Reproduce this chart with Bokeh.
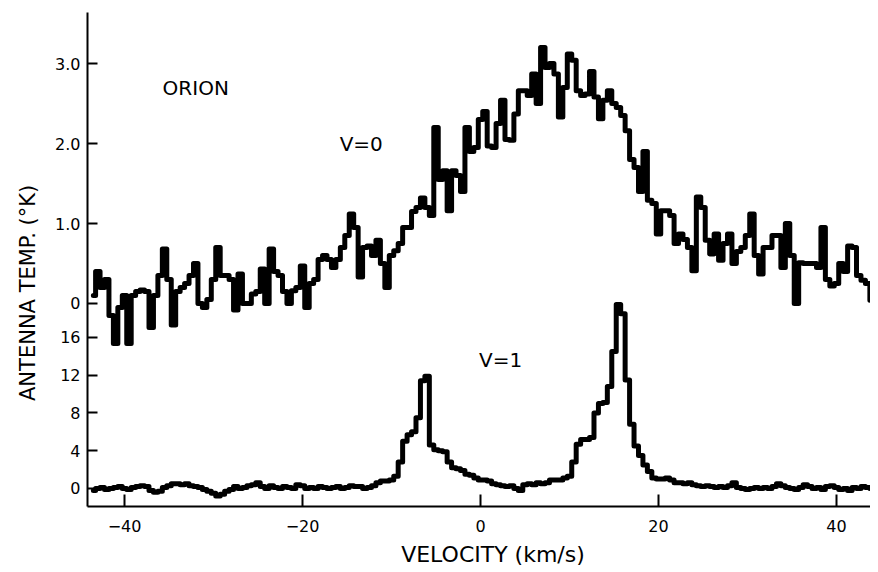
import numpy as np
from bokeh.plotting import figure
from bokeh.models import Range1d, LinearAxis, FixedTicker, Label
from bokeh.embed import file_html
from bokeh.resources import INLINE

# ---- data -------------------------------------------------------------
CHANNEL_START = -43.5     # km/s, centre of first channel
CHANNEL_WIDTH = 0.5       # km/s

# V=0 spectrum, antenna temperature (K)
T_V0 = [
    0.1, 0.4, 0.2, 0.3, -0.15, -0.5, -0.05, 0.1, -0.5, 0.1,
    0.15, 0.17, 0.15, -0.3, 0.1, 0.35, 0.68, 0.3, -0.27, 0.15,
    0.2, 0.25, 0.35, 0.5, 0.0, -0.05, 0.05, 0.3, 0.7, 0.35,
    0.35, 0.3, -0.08, 0.37, 0.0, 0.0, 0.12, 0.15, 0.43, 0.0,
    0.68, 0.4, 0.35, 0.15, 0.0, 0.16, 0.2, 0.47, -0.05, 0.25,
    0.3, 0.55, 0.6, 0.55, 0.45, 0.55, 0.7, 0.85, 1.12, 0.95,
    0.33, 0.7, 0.72, 0.6, 0.79, 0.5, 0.2, 0.6, 0.66, 0.75,
    0.95, 0.95, 1.15, 1.2, 1.32, 1.2, 1.1, 2.2, 1.55, 1.66,
    1.16, 1.66, 1.6, 1.4, 2.2, 1.9, 1.95, 2.3, 2.4, 1.97,
    1.95, 2.25, 2.54, 2.05, 2.04, 2.37, 2.66, 2.66, 2.6, 2.87,
    2.5, 3.2, 2.95, 3.0, 2.87, 2.33, 2.7, 3.12, 3.04, 2.66,
    2.6, 2.62, 2.9, 2.58, 2.31, 2.54, 2.66, 2.5, 2.45, 2.35,
    2.16, 1.8, 1.7, 1.4, 1.9, 1.29, 1.25, 0.87, 1.16, 1.16,
    1.1, 0.75, 0.87, 0.8, 0.7, 0.41, 1.33, 1.2, 0.79, 0.62,
    0.87, 0.54, 0.75, 0.87, 0.5, 0.65, 0.7, 0.85, 1.12, 0.6,
    0.37, 0.7, 0.7, 0.85, 0.85, 0.45, 1.0, 0.6, 0.0, 0.51,
    0.5, 0.5, 0.5, 0.45, 0.95, 0.3, 0.22, 0.25, 0.5, 0.4,
    0.72, 0.7, 0.35, 0.29, 0.25, 0.04,
]

# V=1 spectrum, antenna temperature (K)
T_V1 = [
    -0.2, 0.0, 0.1, -0.1, 0.0, 0.1,
    0.2, 0.0, -0.1, 0.1, 0.2, 0.3,
    0.2, -0.2, -0.4, -0.3, 0.1, 0.3,
    0.5, 0.5, 0.4, 0.5, 0.3, 0.2,
    0.1, -0.1, -0.3, -0.5, -0.8, -0.6,
    -0.3, -0.1, 0.2, 0.0, 0.1, 0.3,
    0.4, 0.6, 0.2, 0.0, 0.3, 0.1,
    0.0, 0.2, 0.1, 0.0, 0.4, 0.3,
    0.0, 0.1, 0.0, 0.2, 0.1, 0.0,
    0.1, 0.2, 0.0, 0.1, 0.3, 0.2,
    0.2, 0.0, 0.1, 0.3,
    0.6, 0.8, 0.8, 0.9, 1.3, 2.8, 5.0, 5.7, 6.0, 7.5, 11.4, 11.9,
    4.6, 4.1, 4.0, 3.9, 2.8, 2.2, 2.1, 1.9, 1.5, 1.4, 1.1, 0.9, 0.9, 0.8,
    0.5, 0.4, 0.3, 0.2, 0.3, 0.0, -0.2, 0.4, 0.5, 0.4, 0.6, 0.5, 0.6, 0.9, 0.9, 0.9, 1.1, 1.3,
    2.8, 4.7, 5.2, 5.2, 5.4, 8.0, 9.0, 9.1, 10.8, 14.5, 19.5, 18.5, 11.5, 6.8, 4.5, 3.5, 2.5, 1.8, 1.1, 1.0,
    1.0, 1.1, 0.9, 0.6, 0.6, 0.5, 0.6, 0.4, 0.3, 0.2, 0.3, 0.2, 0.1, 0.2, 0.1, 0.3, 0.6, 0.1,
    0.0, -0.1, 0.0, 0.1, 0.0, 0.1, 0.0, 0.2, 0.5, 0.3, 0.1, 0.0, -0.1, 0.1, 0.4, 0.2, 0.0, 0.1, -0.1, 0.2,
    0.3, 0.1, -0.1, 0.0, -0.2, 0.1, 0.0, 0.2, 0.1, 0.0,
]

X_TICKS = [-40, -20, 0, 20, 40]
X_TICK_LABELS = ["\u221240", "\u221220", "0", "20", "40"]
LOWER_TICKS = [0, 4, 8, 12, 16]
LOWER_TICK_LABELS = ["0", "4", "8", "12", "16"]
UPPER_TICKS = [0.0, 1.0, 2.0, 3.0]
UPPER_TICK_LABELS = ["0", "1.0", "2.0", "3.0"]

X_LABEL = "VELOCITY (km/s)"
Y_LABEL = "ANTENNA TEMP. (\u00b0K)"

# ---- layout constants ------------------------------------------------
FONT = "DejaVu Sans"
LOW_RANGE = (-1.907, 50.42)     # V=1 scale (K)
UP_RANGE = (-2.5375, 3.6375)    # V=0 scale (K)
NBSP = "\u00a0"

vel0 = CHANNEL_START + CHANNEL_WIDTH * np.arange(len(T_V0))
vel1 = CHANNEL_START + CHANNEL_WIDTH * np.arange(len(T_V1))

p = figure(width=870, height=572, output_backend="svg", toolbar_location=None,
           x_range=Range1d(-44.16, 43.82), y_range=Range1d(*LOW_RANGE),
           x_axis_type=None, y_axis_type=None,
           min_border_left=87, min_border_right=0, min_border_top=12, min_border_bottom=66)
p.extra_y_ranges = {"upper": Range1d(*UP_RANGE)}
p.outline_line_color = None
p.background_fill_color = "white"
p.border_fill_color = "white"


def up_to_low(t):
    return round(LOW_RANGE[0] + (t - UP_RANGE[0]) * (LOW_RANGE[1] - LOW_RANGE[0]) / (UP_RANGE[1] - UP_RANGE[0]), 4)


y_ticks = list(LOWER_TICKS) + [up_to_low(t) for t in UPPER_TICKS]
y_overrides = {}
for t, lab in zip(LOWER_TICKS, LOWER_TICK_LABELS):
    y_overrides[t] = lab
for t, lab in zip(UPPER_TICKS, UPPER_TICK_LABELS):
    y_overrides[up_to_low(t)] = lab

xaxis = LinearAxis(ticker=FixedTicker(ticks=X_TICKS),
                   major_label_overrides=dict(zip(X_TICKS, X_TICK_LABELS)),
                   major_tick_in=12, major_tick_out=0, minor_tick_line_color=None,
                   axis_line_width=2, major_tick_line_width=2,
                   major_label_text_font=FONT, major_label_text_font_size="16px",
                   major_label_text_color="black", major_label_standoff=13,
                   axis_label=NBSP * 4 + X_LABEL, axis_label_text_font=FONT,
                   axis_label_text_font_size="22px", axis_label_text_font_style="normal",
                   axis_label_text_color="black", axis_label_standoff=7)
p.add_layout(xaxis, "below")

yaxis = LinearAxis(ticker=FixedTicker(ticks=y_ticks),
                   major_label_overrides=y_overrides,
                   major_tick_in=10, major_tick_out=0, minor_tick_line_color=None,
                   axis_line_width=2, major_tick_line_width=2,
                   major_label_text_font=FONT, major_label_text_font_size="16px",
                   major_label_text_color="black", major_label_standoff=7,
                   axis_label=Y_LABEL + NBSP * 10, axis_label_text_font=FONT,
                   axis_label_text_font_size="21px", axis_label_text_font_style="normal",
                   axis_label_text_color="black", axis_label_standoff=12)
p.add_layout(yaxis, "left")

p.step(x=vel0, y=T_V0, mode="center", y_range_name="upper",
       line_color="black", line_width=5, line_join="round", line_cap="round")
p.step(x=vel1, y=T_V1, mode="center",
       line_color="black", line_width=5, line_join="round", line_cap="round")


def add_text(x, y, text, size):
    p.add_layout(Label(x=x, y=y, text=text, text_font=FONT, text_font_size=size,
                       text_color="black", text_align="center", text_baseline="middle"))


add_text(-32.0, 42.4, "ORION", "20px")
add_text(-13.4, 36.5, "V=0", "20px")
add_text(2.25, 13.6, "V=1", "20px")

open("out.html", "w").write(file_html(p, INLINE))
